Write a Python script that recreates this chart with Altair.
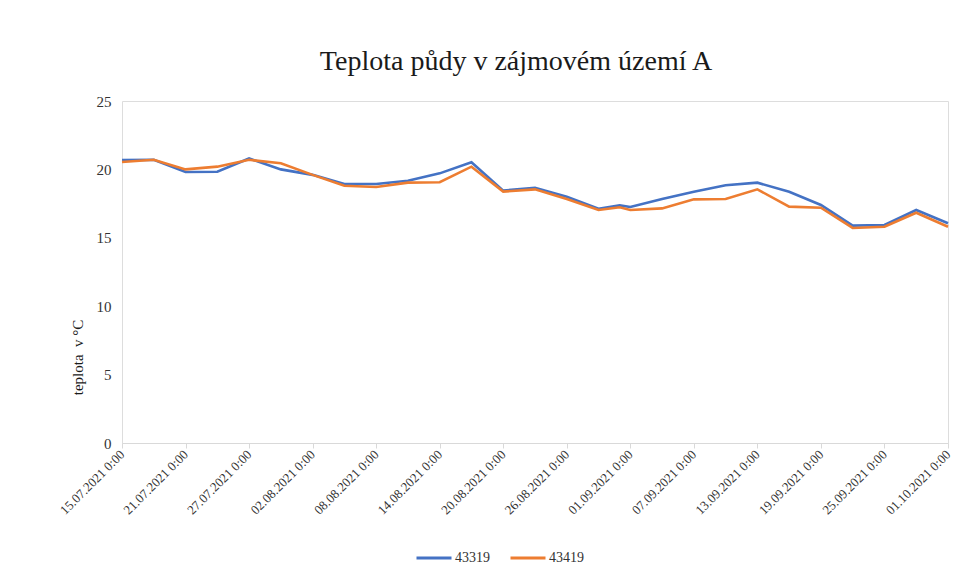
import altair as alt
import pandas as pd

# ---- data ----
dates = ["2021-07-15", "2021-07-18", "2021-07-21", "2021-07-24", "2021-07-27",
         "2021-07-30", "2021-08-02", "2021-08-05", "2021-08-08", "2021-08-11",
         "2021-08-14", "2021-08-17", "2021-08-20", "2021-08-23", "2021-08-26",
         "2021-08-29", "2021-08-31", "2021-09-01", "2021-09-04", "2021-09-07",
         "2021-09-10", "2021-09-13", "2021-09-16", "2021-09-19", "2021-09-22",
         "2021-09-25", "2021-09-28", "2021-10-01"]
s43319 = [20.69, 20.70, 19.81, 19.83, 20.80, 20.00, 19.60, 18.93, 18.93, 19.17,
          19.71, 20.52, 18.45, 18.66, 18.00, 17.13, 17.37, 17.25, 17.84, 18.37,
          18.84, 19.03, 18.37, 17.40, 15.89, 15.94, 17.03, 16.06]
s43419 = [20.54, 20.70, 20.00, 20.20, 20.70, 20.45, 19.60, 18.81, 18.71, 19.03,
          19.06, 20.20, 18.38, 18.54, 17.84, 17.03, 17.23, 17.03, 17.15, 17.81,
          17.84, 18.54, 17.28, 17.20, 15.72, 15.81, 16.83, 15.81]
series_names = ["43319", "43419"]
series_colors = ["#4472C4", "#ED7D31"]
tick_dates = [(2021, 7, 15), (2021, 7, 21), (2021, 7, 27), (2021, 8, 2), (2021, 8, 8),
              (2021, 8, 14), (2021, 8, 20), (2021, 8, 26), (2021, 9, 1), (2021, 9, 7),
              (2021, 9, 13), (2021, 9, 19), (2021, 9, 25), (2021, 10, 1)]
y_ticks = [0, 5, 10, 15, 20, 25]

df = pd.DataFrame({
    "datum": dates * 2,
    "teplota": s43319 + s43419,
    "serie": [series_names[0]] * len(dates) + [series_names[1]] * len(dates),
})

W, H = 826, 342
SERIF = "Liberation Serif"

x_enc = alt.X(
    "datum:T",
    scale=alt.Scale(type="utc", domain=[alt.DateTime(year=2021, month=7, date=15, utc=True),
                                        alt.DateTime(year=2021, month=10, date=1, utc=True)],
                    nice=False),
    axis=alt.Axis(
        values=[alt.DateTime(year=y, month=m, date=d, utc=True) for (y, m, d) in tick_dates],
        labelExpr="utcFormat(datum.value, '%d.%m.%Y') + ' 0:00'",
        labelAngle=-45, labelAlign="right", labelBaseline="middle",
        labelFont=SERIF, labelFontSize=13, labelColor="#333333",
        labelPadding=4, labelOverlap=False, labelFlush=False,
        domainColor="#d9d9d9", domainWidth=1.2, tickColor="#d9d9d9", tickSize=5,
        grid=False, title=None,
    ),
)
y_enc = alt.Y(
    "teplota:Q",
    scale=alt.Scale(domain=[0, 25], nice=False, zero=True),
    axis=alt.Axis(
        values=y_ticks, grid=False, domain=False, ticks=False,
        labelFont=SERIF, labelFontSize=15, labelColor="#333333", labelPadding=11,
        title="teplota\u00a0 v °C", titleFont=SERIF, titleFontSize=15,
        titleFontWeight="normal", titleColor="#1a1a1a",
        titleX=-37, titleY=256,
    ),
)

lines = alt.Chart(df).mark_line(strokeWidth=2.6, interpolate="linear").encode(
    x=x_enc,
    y=y_enc,
    color=alt.Color(
        "serie:N",
        scale=alt.Scale(domain=series_names, range=series_colors),
        legend=alt.Legend(
            orient="none", legendX=293, legendY=438, direction="horizontal",
            title=None, symbolType="stroke", symbolSize=1225, symbolStrokeWidth=3,
            labelFont=SERIF, labelFontSize=14, labelColor="#333333",
            labelOffset=2, columnPadding=14,
        ),
    ),
)

chart = lines.properties(
    width=W, height=H,
    title=alt.Title("Teplota půdy v zájmovém území A", font=SERIF, fontSize=28,
                    fontWeight="normal", color="#1a1a1a", anchor="middle",
                    baseline="alphabetic", offset=28, dy=32, dx=-19),
    autosize=alt.AutoSizeParams(type="none"),
    padding={"left": 114, "top": 93, "right": 15, "bottom": 125},
).configure_view(stroke="transparent", strokeWidth=0, fill="#eaeaea").configure(background="white")

chart.save("out.html", embed_options={"renderer": "svg", "actions": False})
